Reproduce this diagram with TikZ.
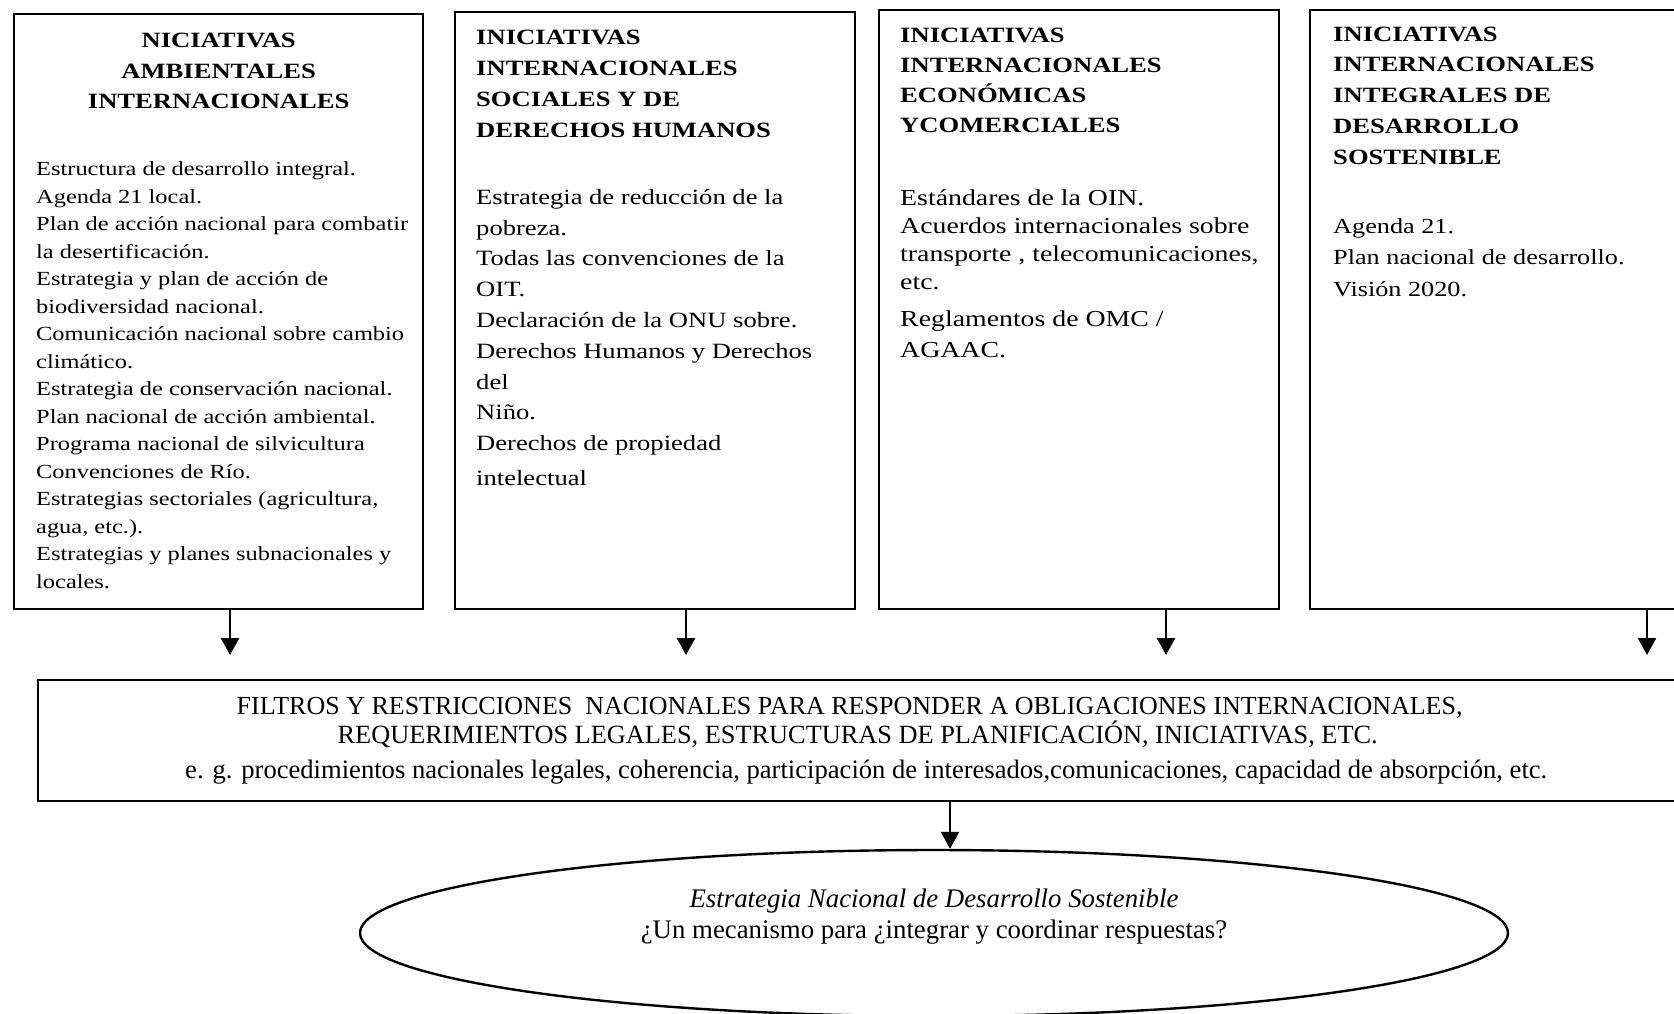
\documentclass[tikz,border=0pt]{standalone}
\usepackage{fontspec}
\setmainfont{Liberation Serif}
\newfontfamily\wideFont[FakeStretch=1.22]{Liberation Serif}
\usetikzlibrary{arrows.meta,shapes.geometric}
\newcommand\colorFrame{black}
\newcommand\frameWidth{1.2pt}
\newcommand\arrowEnd{655}
\newcommand\titleFont[2]{\wideFont\fontsize{#1}{#2}\selectfont\bfseries}
\newcommand\bodyFont[2]{\fontsize{#1}{#2}\selectfont\mdseries\raggedright}

\begin{document}
\begin{tikzpicture}[x=0.5pt,y=-0.5pt,
	initbox/.style={draw=\colorFrame, line width=\frameWidth, anchor=north west, inner ysep=0pt, inner xsep=#1},
	arr/.style={-{Triangle[width=9pt,length=8.5pt]}, line width=\frameWidth, color=\colorFrame}]
	\useasboundingbox (0,0) rectangle (1674,1013);
	\clip (0,0) rectangle (1674,1013);
	
	\node[initbox=11pt] (b1) at (13,13) {\parbox[t][297.5pt][t]{182.5pt}{%
		\titleFont{10.9}{15.25}\centering
		\rule{0pt}{16.75pt}NICIATIVAS\\ AMBIENTALES\\ INTERNACIONALES\par
		\vspace{19.85pt}
		\bodyFont{10}{13.75}
		Estructura de desarrollo integral.\\
		Agenda 21 local.\\
		\mbox{Plan de acción nacional para combatir}\\
		la desertificación.\\
		Estrategia y plan de acción de\\
		biodiversidad nacional.\\
		\mbox{Comunicación nacional sobre cambio}\\
		climático.\\
		\mbox{Estrategia de conservación nacional.}\\
		\mbox{Plan nacional de acción ambiental.}\\
		Programa nacional de silvicultura\\
		Convenciones de Río.\\
		\mbox{Estrategias sectoriales (agricultura,}\\
		agua, etc.).\\
		\mbox{Estrategias y planes subnacionales y}\\
		locales.\par}};
	
	\node[initbox=10.5pt] (b2) at (454,11) {\parbox[t][298.5pt][t]{179pt}{%
		\titleFont{10.9}{15.5}\raggedright
		\rule{0pt}{16pt}INICIATIVAS\\ INTERNACIONALES\\ SOCIALES Y DE\\ DERECHOS HUMANOS\par
		\vspace{18.1pt}
		\bodyFont{10.9}{15.4}
		Estrategia de reducción de la\\
		pobreza.\\
		Todas las convenciones de la\\
		OIT.\\
		Declaración de la ONU sobre.\\
		Derechos Humanos y Derechos\\
		del\\
		Niño.\\
		Derechos de propiedad\\[2pt]
		intelectual\par}};
	
	\node[initbox=10.5pt] (b3) at (878,9) {\parbox[t][299.5pt][t]{179pt}{%
		\titleFont{10.9}{15}\raggedright
		\rule{0pt}{16.3pt}INICIATIVAS\\ INTERNACIONALES\\ ECONÓMICAS\\ YCOMERCIALES\par
		\vspace{22.2pt}
		\bodyFont{11.4}{14}
		Estándares de la OIN.\\
		Acuerdos internacionales sobre\\
		\mbox{transporte , telecomunicaciones,}\\
		etc.\\[4.5pt]
		Reglamentos de OMC /\\[1.5pt]
		AGAAC.\par}};
	
	\node[initbox=11.5pt] (b4) at (1309,9) {\parbox[t][299.5pt][t]{177pt}{%
		\titleFont{10.9}{15.35}\raggedright
		\rule{0pt}{15.5pt}INICIATIVAS\\ INTERNACIONALES\\ INTEGRALES DE\\ DESARROLLO\\ SOSTENIBLE\par
		\vspace{18.75pt}
		\bodyFont{10.75}{15.75}
		Agenda 21.\\
		Plan nacional de desarrollo.\\
		Visión 2020.\par}};
	
	\node[draw=\colorFrame, line width=\frameWidth, anchor=north west, minimum width=828pt, minimum height=60.5pt,
		inner sep=0pt, align=center, font=\fontsize{13}{14.5}\selectfont] (filt) at (37,679)
		{FILTROS Y RESTRICCIONES\ \ NACIONALES PARA RESPONDER A OBLIGACIONES INTERNACIONALES,\makebox[16.5pt]{}\\
		{\fontsize{13.16}{14.5}\selectfont REQUERIMIENTOS LEGALES, ESTRUCTURAS DE PLANIFICACIÓN, INICIATIVAS, ETC.}\makebox[8.5pt]{}\\[3pt]
		{\fontsize{13.3}{14.5}\selectfont e. g. procedimientos nacionales legales, coherencia, participación de interesados,comunicaciones, capacidad de absorpción, etc.}};
	
	\node[draw=\colorFrame, line width=\frameWidth, ellipse, minimum width=574pt, minimum height=83pt, inner sep=0pt] (ell) at (934,933)
		{\parbox[c][46pt][t]{330pt}{\centering\fontsize{13.4}{15.5}\selectfont
		\rule{0pt}{10pt}\textit{Estrategia Nacional de Desarrollo Sostenible}\\
		¿Un mecanismo para ¿integrar y coordinar respuestas?}};
	
	% arrows into the filter box
	\foreach \i/\x in {1/230,2/686,3/1166,4/1647}{
		\coordinate (t\i) at (\x,\arrowEnd);
		\draw[arr] (b\i.south -| t\i) -- (t\i);
	}
	\coordinate (t5) at (950,0);
	\draw[arr] (filt.south -| t5) -- (ell.north -| t5);
\end{tikzpicture}
\end{document}
